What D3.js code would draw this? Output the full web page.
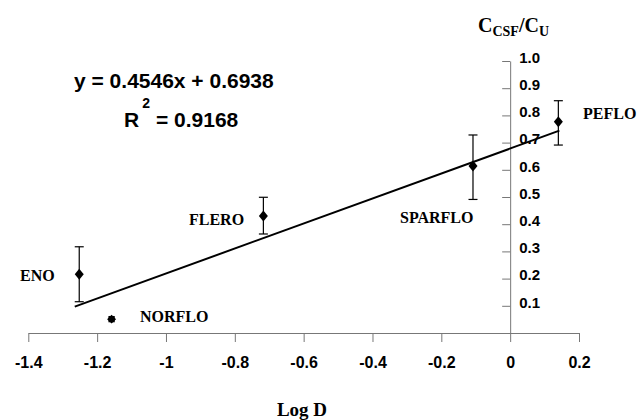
<!DOCTYPE html>
<html>
  <head>
    <meta charset="utf-8">
    <title>CSF / U vs Log D</title>
    <script src="https://cdnjs.cloudflare.com/ajax/libs/d3/7.8.5/d3.min.js" charset="utf-8"></script>
    <style>
      body { margin: 0; background: #fff; }
      .tick-x { font: bold 16px "Liberation Sans", Arial, sans-serif; }
      .tick-y { font: bold 15px "Liberation Sans", Arial, sans-serif; }
      .drug { font: bold 16px "Liberation Serif", "Times New Roman", serif; }
      .eq { font: bold 21px "Liberation Sans", Arial, sans-serif; }
    </style>
  </head>
  <body>
    <svg id="chart" width="639" height="420"></svg>
    <script>

// drug names, log D, mean ratio and error bar ends
var drugs  = ["ENO", "FLERO", "SPARFLO", "PEFLO"];
var logD   = [-1.252, -0.717, -0.108, 0.140];
var ratio  = [0.216, 0.430, 0.614, 0.777];
var errHi  = [0.317, 0.499, 0.728, 0.854];
var errLo  = [0.115, 0.364, 0.491, 0.691];

// the outlier, not used in the fit
var outlierName = "NORFLO";
var outlierX = -1.158;
var outlierY = 0.051;

// trend line ends as drawn
var trendX = [-1.265, 0.143];
var trendY = [0.097, 0.744];

var xTicks = [-1.4, -1.2, -1, -0.8, -0.6, -0.4, -0.2, 0, 0.2];
var xTickLabels = ["-1.4", "-1.2", "-1", "-0.8", "-0.6", "-0.4", "-0.2", "0", "0.2"];
var yTicks = [0.1, 0.2, 0.3, 0.4, 0.5, 0.6, 0.7, 0.8, 0.9, 1.0];

window.addEventListener("load", run);

function run () {
    var svg = d3.select("#chart");

    var x = d3.scaleLinear().domain([-1.4, 0.2]).range([28.3, 579]);
    var y = d3.scaleLinear().domain([0, 1]).range([333, 61]);
    var axisColor = "#777";

    // x axis
    var xAxis = d3.axisBottom(x)
        .tickValues(xTicks)
        .tickSize(9)
        .tickSizeOuter(0)
        .tickFormat(function(d, i) { return xTickLabels[i]; });
    var gx = svg.append("g")
        .attr("transform", "translate(0," + y(0) + ")")
        .call(xAxis);
    gx.attr("font-family", null).attr("font-size", null);
    gx.select(".domain").attr("stroke", axisColor);
    gx.selectAll(".tick line").attr("stroke", axisColor);
    gx.selectAll(".tick text")
        .attr("class", "tick-x")
        .attr("fill", "#000")
        .attr("y", 29)
        .attr("dy", "0.35em");

    // y axis sits on x = 0
    var yAxis = d3.axisLeft(y)
        .tickValues(yTicks)
        .tickSize(8)
        .tickSizeOuter(0)
        .tickFormat(d3.format(".1f"));
    var gy = svg.append("g")
        .attr("transform", "translate(" + x(0) + ",0)")
        .call(yAxis);
    gy.attr("font-family", null).attr("font-size", null);
    gy.select(".domain").attr("stroke", axisColor);
    gy.selectAll(".tick line").attr("stroke", axisColor);
    gy.selectAll(".tick text")
        .attr("class", "tick-y")
        .attr("fill", "#000")
        .attr("text-anchor", "start")
        .attr("x", 9)
        .attr("y", -4)
        .attr("dy", "0.35em");

    // trend line
    svg.append("line")
        .attr("x1", x(trendX[0])).attr("y1", y(trendY[0]))
        .attr("x2", x(trendX[1])).attr("y2", y(trendY[1]))
        .attr("stroke", "#000")
        .attr("stroke-width", 2);

    // error bars
    var rows = drugs.map(function(d, i) {
        return {name: d, x: logD[i], y: ratio[i], hi: errHi[i], lo: errLo[i]};
    });
    var bars = svg.append("g").selectAll("g").data(rows).enter().append("g");
    bars.append("line")
        .attr("x1", function(d) { return x(d.x); })
        .attr("x2", function(d) { return x(d.x); })
        .attr("y1", function(d) { return y(d.hi); })
        .attr("y2", function(d) { return y(d.lo); })
        .attr("stroke", "#000").attr("stroke-width", 1.2);
    ["hi", "lo"].forEach(function(k) {
        bars.append("line")
            .attr("x1", function(d) { return x(d.x) - 4.5; })
            .attr("x2", function(d) { return x(d.x) + 4.5; })
            .attr("y1", function(d) { return y(d[k]); })
            .attr("y2", function(d) { return y(d[k]); })
            .attr("stroke", "#000").attr("stroke-width", 1.2);
    });
    // diamonds
    bars.append("path")
        .attr("d", function(d) {
            var cx = x(d.x), cy = y(d.y);
            return "M" + cx + "," + (cy - 5.5) + "L" + (cx + 4.5) + "," + cy +
                   "L" + cx + "," + (cy + 5.5) + "L" + (cx - 4.5) + "," + cy + "Z";
        })
        .attr("fill", "#000");

    // outlier marker: two squares make an 8 point burst
    [0, 45].forEach(function(a) {
        svg.append("path")
            .attr("d", d3.symbol().type(d3.symbolSquare).size(40)())
            .attr("transform", "translate(" + x(outlierX) + "," + y(outlierY) + ") rotate(" + a + ")")
            .attr("fill", "#000");
    });

    // drug labels
    var labelPos = {
        "ENO":     [20, 275],
        "FLERO":   [189, 219],
        "SPARFLO": [400, 217],
        "PEFLO":   [583, 113],
        "NORFLO":  [140, 316]
    };
    drugs.concat([outlierName]).forEach(function(n) {
        svg.append("text")
            .attr("class", "drug")
            .attr("x", labelPos[n][0])
            .attr("y", labelPos[n][1])
            .attr("dy", "0.35em")
            .text(n);
    });

    // axis titles
    var ttl = svg.append("text")
        .attr("x", 478)
        .attr("y", 32)
        .style("font", "bold 20px 'Liberation Serif', 'Times New Roman', serif");
    ttl.append("tspan").text("C");
    ttl.append("tspan").attr("dy", 4).style("font-size", "14px").text("CSF");
    ttl.append("tspan").attr("dy", -4).text("/C");
    ttl.append("tspan").attr("dy", 4).style("font-size", "14px").text("U");

    svg.append("text")
        .attr("x", 302)
        .attr("y", 416)
        .attr("text-anchor", "middle")
        .style("font", "bold 19px 'Liberation Serif', 'Times New Roman', serif")
        .text("Log D");

    // regression equation
    svg.append("text")
        .attr("class", "eq")
        .attr("x", 74)
        .attr("y", 88)
        .text("y = 0.4546x + 0.6938");
    var r2 = svg.append("text")
        .attr("class", "eq")
        .attr("x", 124)
        .attr("y", 127);
    r2.append("tspan").text("R");
    r2.append("tspan").attr("dy", -19).attr("dx", 3).style("font-size", "14px").text("2");
    r2.append("tspan").attr("dy", 19).attr("dx", 6).text("= 0.9168");
}
    </script>
  </body>
</html>
